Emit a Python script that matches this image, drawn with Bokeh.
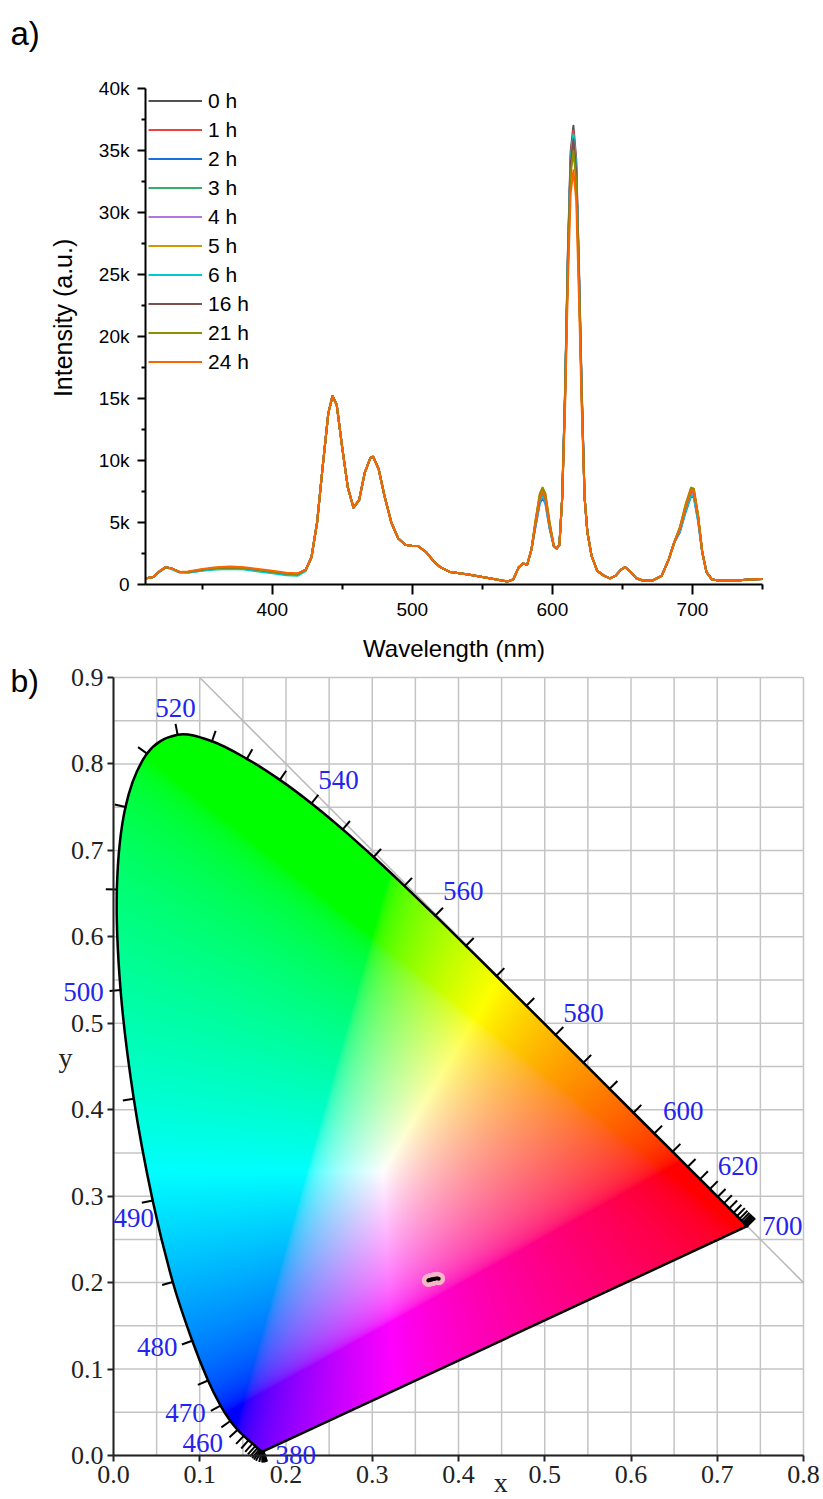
import numpy as np
from bokeh.plotting import figure
from bokeh.layouts import column
from bokeh.models import FixedTicker, Legend, LegendItem, Label, LabelSet, ColumnDataSource
from bokeh.core.properties import value
from bokeh.embed import file_html
from bokeh.resources import INLINE

# ---------------- panel a) : emission spectra ----------------
wavelength_nm = [310, 315, 320, 324, 328, 334, 340, 350, 360, 370, 380, 390, 400, 410, 418,
                 424, 428, 432, 436, 440, 443, 446, 450, 454, 458, 462, 466, 470, 472, 476,
                 480, 485, 490, 495, 500, 504, 510, 515, 520, 527, 540, 550, 560, 568, 572,
                 576, 579, 582, 585, 588, 591, 593, 595, 598, 601, 603, 605, 607, 609, 611,
                 613, 615, 617, 619, 621, 623, 625, 628, 632, 637, 641, 645, 649, 652, 656,
                 660, 665, 672, 678, 683, 687, 691, 695, 699, 701, 704, 707, 710, 714, 720,
                 730, 740, 750]

s_0h = [500, 600, 1100, 1400, 1300, 1000, 1000, 1200, 1330, 1380, 1330, 1180, 1030, 880, 830,
        1200, 2200, 5000, 9500, 13800, 15200, 14500, 11000, 7800, 6200, 6800, 9000, 10200, 10300, 9300,
        7200, 5000, 3700, 3200, 3100, 3100, 2600, 1900, 1400, 1000, 800, 600, 400, 250, 400,
        1400, 1700, 1600, 2800, 4900, 6800, 7300, 6800, 4700, 3100, 2900, 3200, 7000, 15500, 26600,
        34900, 37000, 34300, 25500, 15500, 7000, 4200, 2300, 1100, 700, 500, 700, 1200, 1400, 1000,
        500, 300, 350, 700, 2000, 3400, 4300, 6000, 7300, 7200, 5300, 2600, 1000, 400, 300,
        300, 400, 450]
s_1h = [500, 600, 1100, 1400, 1300, 1000, 1000, 1200, 1330, 1380, 1330, 1180, 1030, 880, 830,
        1200, 2200, 5000, 9500, 13800, 15200, 14500, 11000, 7800, 6200, 6800, 9000, 10200, 10300, 9300,
        7200, 5000, 3700, 3200, 3100, 3100, 2600, 1900, 1400, 1000, 800, 600, 400, 250, 400,
        1400, 1700, 1600, 2800, 4900, 6900, 7400, 6900, 4700, 3100, 2900, 3200, 7000, 15300, 26300,
        34500, 36600, 34000, 25200, 15300, 7000, 4200, 2300, 1100, 700, 500, 700, 1200, 1400, 1000,
        500, 300, 350, 700, 2000, 3400, 4400, 6000, 7400, 7300, 5400, 2600, 1000, 400, 300,
        300, 400, 450]
s_2h = [500, 600, 1100, 1400, 1300, 1000, 980, 1150, 1280, 1320, 1270, 1120, 970, 820, 780,
        1200, 2200, 5000, 9500, 13800, 15200, 14500, 11000, 7800, 6200, 6800, 9000, 10200, 10300, 9300,
        7200, 5000, 3700, 3200, 3100, 3100, 2600, 1900, 1400, 1000, 800, 600, 400, 250, 400,
        1400, 1700, 1600, 2800, 4700, 6500, 7000, 6500, 4500, 3100, 2900, 3200, 7000, 15100, 25900,
        34000, 36000, 33400, 24800, 15100, 7000, 4200, 2300, 1100, 700, 500, 700, 1200, 1400, 1000,
        500, 300, 350, 700, 2000, 3400, 4200, 5800, 7100, 7000, 5100, 2600, 1000, 400, 300,
        300, 400, 450]
s_3h = [500, 600, 1100, 1400, 1300, 1000, 980, 1150, 1280, 1320, 1270, 1120, 970, 820, 780,
        1200, 2200, 5000, 9500, 13800, 15200, 14500, 11000, 7800, 6200, 6800, 9000, 10200, 10300, 9300,
        7200, 5000, 3700, 3200, 3100, 3100, 2600, 1900, 1400, 1000, 800, 600, 400, 250, 400,
        1400, 1700, 1600, 2800, 5100, 7100, 7600, 7100, 4900, 3100, 2900, 3200, 7000, 15200, 26000,
        34100, 36200, 33600, 24900, 15200, 7000, 4200, 2300, 1100, 700, 500, 700, 1200, 1400, 1000,
        500, 300, 350, 700, 2000, 3400, 4500, 6200, 7600, 7500, 5500, 2600, 1000, 400, 300,
        300, 400, 450]
s_4h = [500, 600, 1100, 1400, 1300, 1000, 980, 1150, 1280, 1320, 1270, 1120, 970, 820, 780,
        1200, 2200, 5000, 9500, 13800, 15200, 14500, 11000, 7800, 6200, 6800, 9000, 10200, 10300, 9300,
        7200, 5000, 3700, 3200, 3100, 3100, 2600, 1900, 1400, 1000, 800, 600, 400, 250, 400,
        1400, 1700, 1600, 2800, 4800, 6700, 7200, 6700, 4600, 3100, 2900, 3200, 7000, 15000, 25700,
        33800, 35800, 33200, 24700, 15000, 7000, 4200, 2300, 1100, 700, 500, 700, 1200, 1400, 1000,
        500, 300, 350, 700, 2000, 3400, 4300, 6000, 7300, 7200, 5300, 2600, 1000, 400, 300,
        300, 400, 450]
s_5h = [500, 600, 1100, 1400, 1300, 1000, 1000, 1200, 1330, 1380, 1330, 1180, 1030, 880, 830,
        1200, 2200, 5000, 9500, 13800, 15200, 14500, 11000, 7800, 6200, 6800, 9000, 10200, 10300, 9300,
        7200, 5000, 3700, 3200, 3100, 3100, 2600, 1900, 1400, 1000, 800, 600, 400, 250, 400,
        1400, 1700, 1600, 2800, 5200, 7300, 7800, 7300, 5000, 3100, 2900, 3200, 7000, 14900, 25500,
        33500, 35500, 32900, 24400, 14900, 7000, 4200, 2300, 1100, 700, 500, 700, 1200, 1400, 1000,
        500, 300, 350, 700, 2000, 3400, 4600, 6400, 7800, 7700, 5600, 2600, 1000, 400, 300,
        300, 400, 450]
s_6h = [480, 580, 1050, 1350, 1250, 950, 950, 1100, 1200, 1250, 1200, 1050, 900, 750, 700,
        1100, 2200, 5000, 9500, 13800, 15200, 14500, 11000, 7800, 6200, 6800, 9000, 10200, 10300, 9300,
        7200, 5000, 3700, 3200, 3100, 3100, 2600, 1900, 1400, 1000, 800, 600, 400, 250, 400,
        1400, 1700, 1600, 2800, 4800, 6700, 7200, 6700, 4600, 3100, 2900, 3200, 7000, 15200, 26100,
        34200, 36300, 33700, 25000, 15200, 7000, 4200, 2300, 1100, 700, 500, 700, 1200, 1400, 1000,
        500, 300, 350, 700, 2000, 3400, 4300, 5900, 7200, 7100, 5200, 2600, 1000, 400, 300,
        300, 400, 450]
s_16h = [500, 600, 1100, 1400, 1300, 1000, 1000, 1200, 1330, 1380, 1330, 1180, 1030, 880, 830,
         1200, 2200, 5000, 9500, 13800, 15200, 14500, 11000, 7800, 6200, 6800, 9000, 10200, 10300, 9300,
         7200, 5000, 3700, 3200, 3100, 3100, 2600, 1900, 1400, 1000, 800, 600, 400, 250, 400,
         1400, 1700, 1600, 2800, 5000, 7000, 7500, 7000, 4800, 3100, 2900, 3200, 7000, 15000, 25800,
         33900, 35900, 33300, 24700, 15000, 7000, 4200, 2300, 1100, 700, 500, 700, 1200, 1400, 1000,
         500, 300, 350, 700, 2000, 3400, 4500, 6200, 7600, 7500, 5500, 2600, 1000, 400, 300,
         300, 400, 450]
s_21h = [500, 600, 1100, 1400, 1300, 1000, 1000, 1200, 1330, 1380, 1330, 1180, 1030, 880, 830,
         1200, 2200, 5000, 9500, 13800, 15200, 14500, 11000, 7800, 6200, 6800, 9000, 10200, 10300, 9300,
         7200, 5000, 3700, 3200, 3100, 3100, 2600, 1900, 1400, 1000, 800, 600, 400, 250, 400,
         1400, 1700, 1600, 2800, 5200, 7300, 7800, 7300, 5000, 3100, 2900, 3200, 7000, 14700, 25200,
         33000, 35000, 32500, 24100, 14700, 7000, 4200, 2300, 1100, 700, 500, 700, 1200, 1400, 1000,
         500, 300, 350, 700, 2000, 3400, 4600, 6400, 7800, 7700, 5600, 2600, 1000, 400, 300,
         300, 400, 450]
s_24h = [500, 600, 1100, 1400, 1300, 1000, 1050, 1250, 1400, 1450, 1400, 1250, 1100, 950, 900,
         1200, 2200, 5000, 9500, 13800, 15200, 14500, 11000, 7800, 6200, 6800, 9000, 10200, 10300, 9300,
         7200, 5000, 3700, 3200, 3100, 3100, 2600, 1900, 1400, 1000, 800, 600, 400, 250, 400,
         1400, 1700, 1600, 2800, 5000, 7000, 7500, 7000, 4800, 3100, 2900, 3200, 7000, 14000, 24000,
         31500, 33400, 31000, 23000, 14000, 7000, 4200, 2300, 1100, 700, 500, 700, 1200, 1400, 1000,
         500, 300, 350, 700, 2000, 3400, 4500, 6200, 7600, 7500, 5500, 2600, 1000, 400, 300,
         300, 400, 450]

series_labels = ["0 h", "1 h", "2 h", "3 h", "4 h", "5 h", "6 h", "16 h", "21 h", "24 h"]
series_values = [s_0h, s_1h, s_2h, s_3h, s_4h, s_5h, s_6h, s_16h, s_21h, s_24h]
series_colors = ["#515151", "#F14040", "#1A6FDF", "#37AD6B", "#B177DE",
                 "#CC9900", "#00CBCC", "#7D4E4E", "#8E8E00", "#FB6501"]

x_ticks_a = [400, 500, 600, 700]
x_minor_a = [350, 450, 550, 650, 750]
y_ticks_a = [0, 5000, 10000, 15000, 20000, 25000, 30000, 35000, 40000]
y_tick_labels_a = ["0", "5k", "10k", "15k", "20k", "25k", "30k", "35k", "40k"]
y_minor_a = [2500, 7500, 12500, 17500, 22500, 27500, 32500, 37500]

# ---------------- panel b) : CIE 1931 chromaticity ----------------
locus_nm = list(range(380, 705, 5))
locus_x = [0.1741, 0.1740, 0.1738, 0.1736, 0.1733, 0.1730, 0.1726, 0.1721, 0.1714, 0.1703,
           0.1689, 0.1669, 0.1644, 0.1611, 0.1566, 0.1510, 0.1440, 0.1355, 0.1241, 0.1096,
           0.0913, 0.0687, 0.0454, 0.0235, 0.0082, 0.0039, 0.0139, 0.0389, 0.0743, 0.1142,
           0.1547, 0.1929, 0.2296, 0.2658, 0.3016, 0.3373, 0.3731, 0.4087, 0.4441, 0.4788,
           0.5125, 0.5448, 0.5752, 0.6029, 0.6270, 0.6482, 0.6658, 0.6801, 0.6915, 0.7006,
           0.7079, 0.7140, 0.7190, 0.7230, 0.7260, 0.7283, 0.7300, 0.7311, 0.7320, 0.7327,
           0.7334, 0.7340, 0.7344, 0.7346, 0.7347]
locus_y = [0.0050, 0.0050, 0.0049, 0.0049, 0.0048, 0.0048, 0.0048, 0.0048, 0.0051, 0.0058,
           0.0069, 0.0086, 0.0109, 0.0138, 0.0177, 0.0227, 0.0297, 0.0399, 0.0578, 0.0868,
           0.1327, 0.2007, 0.2950, 0.4127, 0.5384, 0.6548, 0.7502, 0.8120, 0.8338, 0.8262,
           0.8059, 0.7816, 0.7543, 0.7243, 0.6923, 0.6589, 0.6245, 0.5896, 0.5547, 0.5202,
           0.4866, 0.4544, 0.4242, 0.3965, 0.3725, 0.3514, 0.3340, 0.3197, 0.3083, 0.2993,
           0.2920, 0.2859, 0.2809, 0.2770, 0.2740, 0.2717, 0.2700, 0.2689, 0.2680, 0.2673,
           0.2666, 0.2660, 0.2656, 0.2654, 0.2653]

label_nm = [380, 460, 470, 480, 490, 500, 520, 540, 560, 580, 600, 620, 700]
label_dx = [32, -35, -35, -35, -19, -37, -2, 27, 28, 28, 29, 28, 35]      # px, right
label_dy = [4, 13, 7, 6, 18, 2, -27, -23, -25, -22, -22, -23, 0]         # px, down

sample_x = [0.365, 0.366, 0.367, 0.368, 0.369, 0.370, 0.372, 0.373, 0.375, 0.377]
sample_y = [0.2025, 0.2030, 0.2030, 0.2035, 0.2035, 0.2040, 0.2045, 0.2045, 0.2050, 0.2045]

diag_x = [0.1, 0.8]
diag_y = [0.9, 0.2]

x_ticks_b = [0.0, 0.1, 0.2, 0.3, 0.4, 0.5, 0.6, 0.7, 0.8]
x_tick_labels_b = ["0.0", "0.1", "0.2", "0.3", "0.4", "0.5", "0.6", "0.7", "0.8"]
y_ticks_b = [0.0, 0.1, 0.2, 0.3, 0.4, 0.5, 0.6, 0.7, 0.8, 0.9]
y_tick_labels_b = ["0.0", "0.1", "0.2", "0.3", "0.4", "0.5", "0.6", "0.7", "0.8", "0.9"]
grid_x_b = [0.0, 0.05, 0.1, 0.15, 0.2, 0.25, 0.3, 0.35, 0.4, 0.45, 0.5, 0.55, 0.6, 0.65, 0.7, 0.75, 0.8]
grid_y_b = [0.0, 0.05, 0.1, 0.15, 0.2, 0.25, 0.3, 0.35, 0.4, 0.45, 0.5, 0.55, 0.6, 0.65, 0.7, 0.75, 0.8, 0.85, 0.9]

SANS = "Liberation Sans"
SERIF = "Liberation Serif"

# ---------------- layout geometry (pixels) ----------------
W = 823
HA, HB = 663, 836
XA0, XA1, YA0, YA1 = 309.5, 750.0, 0.0, 40000.0
A_L, A_R, A_T, A_B = 145, 762, 88, 584          # axes box of panel a
XB0, XB1, YB0, YB1 = 0.0, 0.8, 0.0, 0.9
B_L, B_R, B_T, B_B = 113, 803, 14, 792          # axes box of panel b (within its canvas)


def full_range(v0, v1, p0, p1, total, flip=False):
    s = (p1 - p0) / (v1 - v0)
    if not flip:
        return (v0 - p0 / s, v1 + (total - p1) / s)
    return (v0 - (total - p1) / s, v1 + p0 / s)


# ================= figure a =================
p1 = figure(frame_width=W, frame_height=HA, min_border=0,
            x_range=full_range(XA0, XA1, A_L, A_R, W),
            y_range=full_range(YA0, YA1, A_T, A_B, HA, flip=True),
            output_backend="svg", toolbar_location=None)
p1.xgrid.visible = False
p1.ygrid.visible = False
p1.outline_line_color = None

items = []
for lab, col, ys in zip(series_labels, series_colors, series_values):
    r = p1.line(wavelength_nm, ys, line_color=col, line_width=2, line_join="round")
    items.append(LegendItem(label=lab, renderers=[r]))

legend = Legend(items=items, location=(A_L + 3, HA - 376), glyph_width=54, glyph_height=29,
                label_height=29, spacing=0, padding=0, margin=0, label_standoff=6,
                label_text_font=SANS, label_text_font_size="21px", label_text_color="black",
                border_line_color=None, background_fill_alpha=0)
p1.add_layout(legend)

xa = p1.xaxis[0]
xa.fixed_location = YA0
xa.bounds = (XA0, XA1)
xa.ticker = FixedTicker(ticks=x_ticks_a, minor_ticks=x_minor_a)
xa.major_tick_out = 10
xa.minor_tick_out = 5
ya = p1.yaxis[0]
ya.fixed_location = XA0
ya.bounds = (YA0, YA1)
ya.ticker = FixedTicker(ticks=y_ticks_a, minor_ticks=y_minor_a)
ya.major_label_overrides = {t: l for t, l in zip(y_ticks_a, y_tick_labels_a)}
ya.major_tick_out = 8
ya.minor_tick_out = 4
for ax in (xa, ya):
    ax.axis_line_width = 2
    ax.axis_line_color = "black"
    ax.major_tick_line_width = 2
    ax.minor_tick_line_width = 2
    ax.major_tick_line_color = "black"
    ax.minor_tick_line_color = "black"
    ax.major_tick_in = 0
    ax.minor_tick_in = 0
    ax.major_label_standoff = 8
    ax.major_label_text_font = SANS
    ax.major_label_text_font_size = "19px"
    ax.major_label_text_color = "black"

p1.add_layout(Label(x=XA0, y=YA1, x_offset=-135, y_offset=55, text="a)",
                    text_font=SANS, text_font_size="33px", text_align="left",
                    text_baseline="middle", text_color="black"))
p1.add_layout(Label(x=XA0, y=21500, x_offset=-83, angle=np.pi / 2, text="Intensity (a.u.)",
                    text_font=SANS, text_font_size="25px", text_align="center",
                    text_baseline="middle", text_color="black"))
p1.add_layout(Label(x=(XA0 + XA1) / 2, y=YA0, y_offset=-64, text="Wavelength (nm)",
                    text_font=SANS, text_font_size="24px", text_align="center",
                    text_baseline="alphabetic", text_color="black"))

# ================= figure b =================
p2 = figure(frame_width=W, frame_height=HB, min_border=0,
            x_range=full_range(XB0, XB1, B_L, B_R, W),
            y_range=full_range(YB0, YB1, B_T, B_B, HB, flip=True),
            output_backend="svg", toolbar_location=None)
p2.xgrid.visible = False
p2.ygrid.visible = False
p2.outline_line_color = None

# grid of the diagram (0.05 steps) and the x + y = 1 guide
p2.segment(x0=grid_x_b, y0=[YB0] * len(grid_x_b), x1=grid_x_b, y1=[YB1] * len(grid_x_b),
           line_color="#c4c4c4", line_width=1.5)
p2.segment(x0=[XB0] * len(grid_y_b), y0=grid_y_b, x1=[XB1] * len(grid_y_b), y1=grid_y_b,
           line_color="#c4c4c4", line_width=1.5)
p2.line(diag_x, diag_y, line_color="#b8b8b8", line_width=1.5)

xb = p2.xaxis[0]
xb.fixed_location = YB0
xb.bounds = (XB0, XB1)
xb.ticker = FixedTicker(ticks=x_ticks_b, minor_ticks=[])
xb.major_label_overrides = {t: l for t, l in zip(x_ticks_b, x_tick_labels_b)}
yb = p2.yaxis[0]
yb.fixed_location = XB0
yb.bounds = (YB0, YB1)
yb.ticker = FixedTicker(ticks=y_ticks_b, minor_ticks=[])
yb.major_label_overrides = {t: l for t, l in zip(y_ticks_b, y_tick_labels_b)}
for ax in (xb, yb):
    ax.axis_line_width = 2
    ax.axis_line_color = "#222222"
    ax.major_tick_line_width = 2
    ax.major_tick_line_color = "#222222"
    ax.major_tick_in = 0
    ax.major_tick_out = 6
    ax.major_label_standoff = 4
    ax.major_label_text_font = SERIF
    ax.major_label_text_font_size = "26px"
    ax.major_label_text_color = "#222222"

# spectral locus as smooth Bezier segments through the tabulated points
P = np.column_stack([locus_x, locus_y])
n = len(P)
ip = np.clip(np.arange(n) - 1, 0, n - 1)
inx = np.clip(np.arange(n) + 1, 0, n - 1)
T = P[inx] - P[ip]
C1 = P[:-1] + T[:-1] / 6.0
C2 = P[1:] - T[1:] / 6.0

# colour fill of the gamut (raster), clipped to the locus
nx, ny = 690, 778
xs = XB0 + (np.arange(nx) + 0.5) / nx * (XB1 - XB0)
ys = YB0 + (np.arange(ny) + 0.5) / ny * (YB1 - YB0)
tt = np.linspace(0, 1, 9)[:-1][:, None, None]
S = ((1 - tt) ** 3 * P[:-1][None] + 3 * (1 - tt) ** 2 * tt * C1[None]
     + 3 * (1 - tt) * tt ** 2 * C2[None] + tt ** 3 * P[1:][None])
poly = np.vstack([S.transpose(1, 0, 2).reshape(-1, 2), P[-1:]])
ax_, ay_ = poly[:, 0], poly[:, 1]
bx_, by_ = np.roll(ax_, -1), np.roll(ay_, -1)
mask = np.zeros((ny, nx), dtype=bool)
for j, yv in enumerate(ys):
    c = (ay_ <= yv) != (by_ <= yv)
    if not c.any():
        continue
    xi = ax_[c] + (yv - ay_[c]) * (bx_[c] - ax_[c]) / (by_[c] - ay_[c])
    mask[j] = ((xi[None, :] > xs[:, None]).sum(axis=1) % 2) == 1

XX, YY = np.meshgrid(xs, ys)
XYZ = np.stack([XX, YY, 1.0 - XX - YY], axis=-1)
M = np.array([[3.2406, -1.5372, -0.4986],
              [-0.9689, 1.8758, 0.0415],
              [0.0557, -0.2040, 1.0570]])
rgb = XYZ @ M.T
rgb = np.clip(rgb, 0, None)
rgb = rgb / (rgb.max(axis=-1, keepdims=True) + 1e-12)
rgb = np.where(rgb <= 0.0031308, 12.92 * rgb, 1.055 * np.power(rgb, 1 / 2.4) - 0.055)
img = np.zeros((ny, nx), dtype=np.uint32)
view = img.view(dtype=np.uint8).reshape((ny, nx, 4))
view[..., :3] = np.clip(rgb * 255, 0, 255).astype(np.uint8)
view[..., 3] = np.where(mask, 255, 0).astype(np.uint8)
p2.image_rgba(image=[img], x=XB0, y=YB0, dw=XB1 - XB0, dh=YB1 - YB0)

# locus outline and line of purples
p2.bezier(x0=P[:-1, 0], y0=P[:-1, 1], x1=P[1:, 0], y1=P[1:, 1],
          cx0=C1[:, 0], cy0=C1[:, 1], cx1=C2[:, 0], cy1=C2[:, 1],
          line_color="black", line_width=2.5, line_cap="round")
p2.line([locus_x[-1], locus_x[0]], [locus_y[-1], locus_y[0]], line_color="black", line_width=2.5)

# 5 nm tick marks, outward normal
Tn = np.column_stack([-T[:, 1], T[:, 0]])
Tn = Tn / np.linalg.norm(Tn, axis=1, keepdims=True)
L = 0.0128
p2.segment(x0=P[:, 0], y0=P[:, 1], x1=P[:, 0] + L * Tn[:, 0], y1=P[:, 1] + L * Tn[:, 1],
           line_color="black", line_width=2)

# wavelength labels
lab_src = ColumnDataSource(dict(
    x=[locus_x[locus_nm.index(w)] for w in label_nm],
    y=[locus_y[locus_nm.index(w)] for w in label_nm],
    text=[str(w) for w in label_nm],
    dx=label_dx,
    dy=[-d for d in label_dy]))
p2.add_layout(LabelSet(x="x", y="y", text="text", x_offset="dx", y_offset="dy", source=lab_src,
                       text_align="center", text_baseline="middle", text_color="#2424ee",
                       text_font=value(SERIF), text_font_size=value("27px")))

# chromaticity points of the samples
p2.scatter(sample_x, sample_y, size=13, fill_color="#f6b6c8", line_color=None)
p2.scatter(sample_x, sample_y, size=4, fill_color="black", line_color=None)

p2.add_layout(Label(x=XB0, y=YB1, x_offset=-103, y_offset=-3, text="b)", text_font=SANS,
                    text_font_size="32px", text_align="left", text_baseline="middle",
                    text_color="black"))
p2.add_layout(Label(x=XB0, y=0.4497, x_offset=-48, y_offset=9, text="y", text_font=SERIF,
                    text_font_size="28px", text_align="center", text_baseline="middle",
                    text_color="#222222"))
p2.add_layout(Label(x=0.449, y=YB0, y_offset=-27, text="x", text_font=SERIF,
                    text_font_size="28px", text_align="center", text_baseline="middle",
                    text_color="#222222"))

layout = column(p1, p2, spacing=0)
open("out.html", "w").write(file_html(layout, INLINE))
